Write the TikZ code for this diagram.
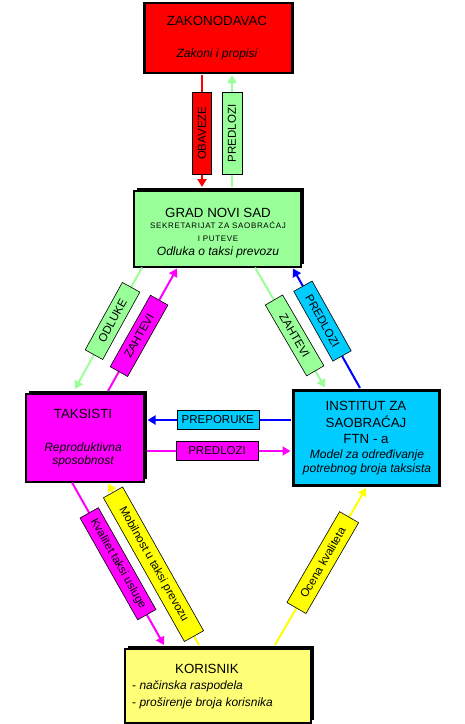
\documentclass[tikz,border=0pt]{standalone}
\usepackage{fontspec}
\setmainfont{Liberation Sans}
\newfontfamily\spacedfont[LetterSpace=8]{Liberation Sans}
\usetikzlibrary{arrows.meta,shadows,calc}
\definecolor{cred}{HTML}{FF0000}
\definecolor{cgreen}{HTML}{99FF99}
\definecolor{cmag}{HTML}{FF00FF}
\definecolor{ccyan}{HTML}{00CCFF}
\definecolor{cyel}{HTML}{FFFF00}
\definecolor{cpale}{HTML}{FFFF77}
\definecolor{cblue}{HTML}{0000FF}
\begin{document}
\begin{tikzpicture}[x=1pt,y=-1pt,
  box/.style={draw=black, line width=1.5pt, inner sep=0pt, anchor=north west},
  thickbox/.style={box, line width=2.5pt},
  shbox/.style={box, general shadow={fill=black, shadow xshift=3pt, shadow yshift=3pt}},
  title/.style={anchor=base, inner sep=0pt, font=\fontsize{13.3}{14}\selectfont},
  sub/.style={anchor=base, inner sep=0pt, font=\fontsize{12}{13}\selectfont\itshape},
  small/.style={anchor=base, inner sep=0pt, font=\fontsize{8}{9}\selectfont\spacedfont},
  lbl/.style={draw=black, line width=0.6pt, inner sep=0pt, minimum height=20pt,
              text=black, font=\fontsize{11.5}{12}\selectfont},
  con/.style={line width=2pt, -{Triangle[length=8pt,width=9pt]}},
]
\useasboundingbox[fill=white] (0,0) rectangle (465,724);

% boxes
\node[thickbox, fill=cred, minimum width=148pt, minimum height=70pt] (zak) at (143,1.5) {};
\node[shbox, fill=cgreen, minimum width=167pt, minimum height=76pt] (grad) at (133,190) {};
\node[shbox, fill=cmag, minimum width=118pt, minimum height=88pt] (taks) at (25,393) {};
\node[thickbox, fill=ccyan, minimum width=146pt, minimum height=95pt] (inst) at (292,389) {};
\node[shbox, fill=cpale, minimum width=186pt, minimum height=74pt] (kor) at (124,648) {};

% texts
\node[title] (zak1) at (217,25) {ZAKONODAVAC};
\node[sub] (zak2) at (217,57) {Zakoni i propisi};

\node[title] (grad1) at (218,217) {GRAD NOVI SAD};
\node[small] (grad2) at (218,228) {SEKRETARIJAT ZA SAOBRAĆAJ};
\node[small] (grad3) at (218,241) {I PUTEVE};
\node[sub] (grad4) at (218,255) {Odluka o taksi prevozu};

\node[title] (taks1) at (83,418) {TAKSISTI};
\node[sub] (taks2) at (83,451) {Reproduktivna};
\node[sub] (taks3) at (83,464) {sposobnost};

\node[title] (inst1) at (366,410) {INSTITUT ZA};
\node[title] (inst2) at (366,427) {SAOBRAĆAJ};
\node[title] (inst3) at (366,443) {FTN - a};
\node[sub] (inst4) at (367,458) {Model za određivanje};
\node[sub] (inst5) at (367,472) {potrebnog broja taksista};

\node[title] (kor1) at (207,673) {KORISNIK};
\node[sub, anchor=base west] (kor2) at (132,689) {\upshape-\itshape\ načinska raspodela};
\node[sub, anchor=base west] (kor3) at (132,706) {\upshape-\itshape\ proširenje broja korisnika};

% vertical connectors
\draw[con, cred] ($(zak.south west)+(59,1)$) -- node[lbl, fill=cred, rotate=90, minimum width=82pt, minimum height=19pt, pos=0.52] (obv) {OBAVEZE} ($(grad.north west)+(69,-3)$);
\draw[con, cgreen] ($(grad.north west)+(99,-3)$) -- node[lbl, fill=cgreen, rotate=90, minimum width=82pt, minimum height=20pt, pos=0.48] (pr1) {PREDLOZI} ($(zak.south west)+(89,1.2)$);

% upper diagonals
\draw[con, cgreen] ($(grad.south west)+(9,0)$) -- node[lbl, fill=cgreen, sloped, minimum width=77pt, pos=0.44] (odl) {ODLUKE} ($(taks.north west)+(50,-4)$);
\draw[con, cmag] ($(taks.north west)+(83,-2)$) -- node[lbl, fill=cmag, sloped, minimum width=82pt, pos=0.45] (zah1) {ZAHTEVI} ($(grad.south west)+(44,1)$);
\draw[con, cgreen] ($(grad.south west)+(122,0)$) -- node[lbl, fill=cgreen, sloped, minimum width=82pt, pos=0.566] (zah2) {ZAHTEVI} ($(inst.north west)+(33,-1.5)$);
\draw[con, cblue] ($(inst.north west)+(68,-1)$) -- node[lbl, fill=ccyan, sloped, minimum width=80pt, minimum height=21pt, pos=0.56] (pr2) {PREDLOZI} ($(grad.south west)+(160,1)$);

% horizontal
\draw[con, cblue] ($(inst.north west)+(-1,31)$) -- node[lbl, fill=ccyan, minimum width=82pt, minimum height=19pt, pos=0.51] (prep) {PREPORUKE} ($(taks.north east)+(3,27)$);
\draw[con, cmag] ($(taks.north east)+(2,58)$) -- node[lbl, fill=cmag, minimum width=82pt, minimum height=19pt, pos=0.49] (pr3) {PREDLOZI} ($(inst.north west)+(-1.5,62)$);

% lower diagonals
\draw[con, cmag] ($(taks.south west)+(47,0)$) -- node[lbl, fill=cmag, sloped, minimum width=117pt, minimum height=21pt, pos=0.5] (kval) {Kvalitet taksi usluge} ($(kor.north west)+(40,-3)$);
\draw[con, cyel] ($(kor.north west)+(75,-3)$) -- node[lbl, fill=cyel, sloped, minimum width=165pt, minimum height=22pt, pos=0.5] (mob) {Mobilnost u taksi prevozu} ($(taks.south west)+(83,1)$);
\draw[con, cyel] ($(kor.north west)+(151,-3)$) -- node[lbl, fill=cyel, sloped, minimum width=105pt, minimum height=22pt, pos=0.525] (oce) {Ocena kvaliteta} ($(inst.south west)+(74,1.5)$);
\end{tikzpicture}
\end{document}
